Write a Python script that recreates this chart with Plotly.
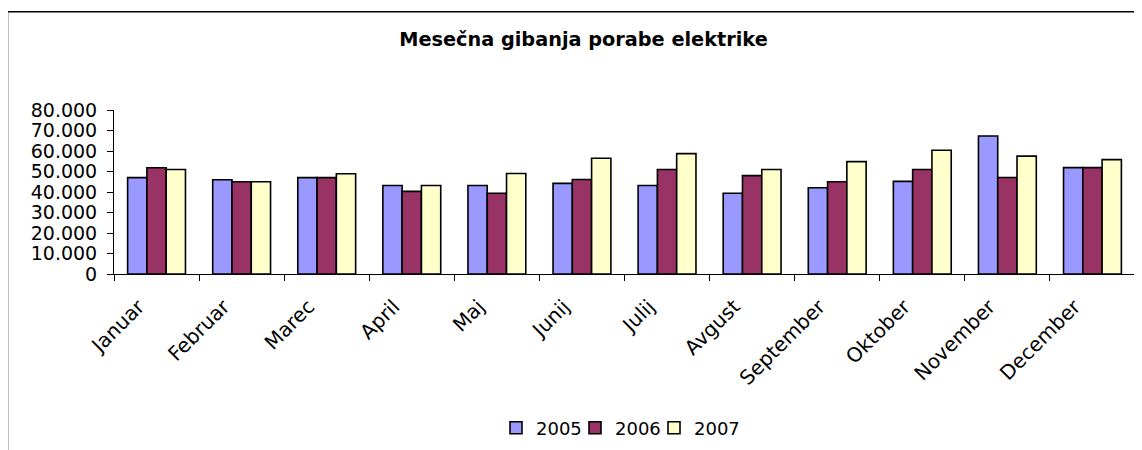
import plotly.graph_objects as go

months = ["Januar", "Februar", "Marec", "April", "Maj", "Junij", "Julij",
          "Avgust", "September", "Oktober", "November", "December"]
y2005 = [47000, 46000, 47000, 43200, 43200, 44200, 43200, 39400, 42100, 45200, 67300, 51900]
y2006 = [51800, 45000, 47000, 40300, 39400, 46100, 51000, 48000, 45000, 51000, 47100, 51900]
y2007 = [51000, 45000, 48900, 43200, 49000, 56500, 58700, 51000, 54800, 60400, 57500, 55800]
series_names = ["2005", "2006", "2007"]
colors = ["#9999FF", "#993366", "#FFFFCC"]
title_text = "Mesečna gibanja porabe elektrike"

FONT = "DejaVu Sans, Arial, sans-serif"

fig = go.Figure()
for name, vals, col in zip(series_names, [y2005, y2006, y2007], colors):
    fig.add_trace(go.Bar(
        x=months, y=vals, name=name,
        marker=dict(color=col, line=dict(color="black", width=1.6)),
    ))
# invisible spacer entry so the last legend label is not clipped
fig.add_trace(go.Scatter(x=[None], y=[None], name=" ", mode="markers",
                         marker=dict(color="rgba(0,0,0,0)", size=1,
                                     line=dict(width=0, color="rgba(0,0,0,0)")),
                         hoverinfo="skip"))

# page offset (browser body margin)
OFF = 8
W, H = 1142, 450
L, R, T, B = 114 - OFF, W - (1135 - OFF), 110 - OFF, H - (276 - OFF)
pw = W - L - R
ph = H - T - B

def px_x(px):
    return (px - OFF - L) / pw

def px_y(py):
    return (H - B - (py - OFF)) / ph

fig.update_layout(
    width=W, height=H,
    margin=dict(l=L, r=R, t=T, b=B),
    paper_bgcolor="white", plot_bgcolor="white",
    barmode="group", bargap=0.32, bargroupgap=0,
    separators=",.",
    font=dict(family=FONT, color="black", size=19),
    title=dict(text=title_text, x=px_x(583.5), xref="paper", xanchor="center",
               y=1 - (39 - OFF) / H, yref="container", yanchor="middle",
               font=dict(family=FONT, size=19.3, weight="bold", color="black")),
    showlegend=True,
    legend=dict(orientation="h", x=px_x(496), xanchor="left", y=px_y(432), yanchor="middle",
                font=dict(family=FONT, size=18, color="black"),
                entrywidth=34, entrywidthmode="pixels", itemwidth=30,
                bgcolor="rgba(0,0,0,0)"),
    xaxis=dict(type="category", showline=True, linecolor="black", linewidth=1,
               ticks="outside", tickson="boundaries", ticklen=6, tickcolor="black",
               tickangle=-45, showgrid=False, zeroline=False,
               tickfont=dict(family=FONT, size=20, color="black"),
               ticklabelshift=-18, ticklabelstandoff=12),
    yaxis=dict(range=[0, 80000], dtick=10000, tickformat=",d", showline=True,
               linecolor="black", linewidth=1, ticks="outside", ticklen=6,
               tickcolor="black", showgrid=False, zeroline=False,
               tickfont=dict(family=FONT, size=19, color="black"),
               ticklabelstandoff=6),
    shapes=[
        dict(type="line", xref="paper", yref="paper",
             x0=px_x(7.5), x1=px_x(1160), y0=px_y(10.5), y1=px_y(10.5),
             line=dict(color="black", width=1.5)),
        dict(type="line", xref="paper", yref="paper",
             x0=px_x(7.5), x1=px_x(7.5), y0=px_y(10.5), y1=px_y(480),
             line=dict(color="black", width=1.5)),
    ],
)

fig.write_html("out.html")
